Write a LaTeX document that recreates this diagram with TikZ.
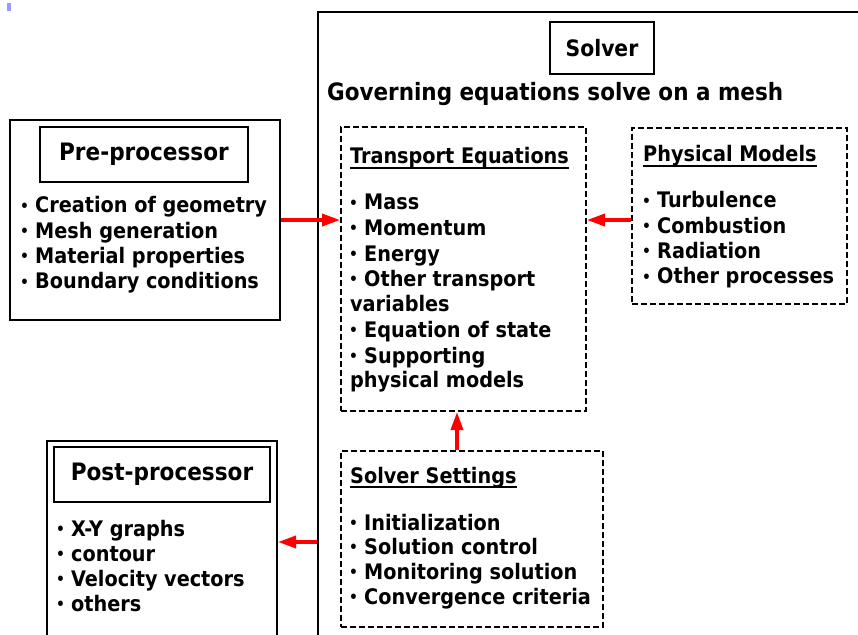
\documentclass[tikz,border=0pt]{standalone}
\usepackage{fontspec}
\setmainfont{DejaVu Sans Condensed}
\usetikzlibrary{arrows.meta,calc}
\newcommand\bul{\makebox[15bp][l]{\raisebox{1.8bp}{\scalebox{0.72}{•}}}}
\begin{document}
\begin{tikzpicture}[x=1bp,y=-1bp,
  every node/.style={font=\bfseries\fontsize{21.4bp}{25bp}\selectfont, inner sep=0pt},
  frame/.style={draw, line width=2bp, anchor=north west},
  dashframe/.style={draw, line width=2bp, dash pattern=on 6bp off 3bp, anchor=north west},
  titlebox/.style={draw, line width=2bp, font=\bfseries\fontsize{24bp}{28bp}\selectfont},
  item/.style={anchor=base west},
  heading/.style={anchor=base west},
  uline/.style={line width=1.6bp},
  flow/.style={red, line width=3.5bp, -{Triangle[length=18bp,width=12bp]}}]
\path[clip] (0,0) rectangle (858,635);
\fill[white] (0,0) rectangle (858,635);
\fill[blue!40!white] (7,3) rectangle (11,11);

% Pre-processor
\node[frame, minimum width=270bp, minimum height=200bp] (pre) at (9,119) {};
\node[titlebox, minimum width=208bp, minimum height=55bp] (pretitle) at (144,154.5) {Pre-processor};
\foreach \t [count=\i] in {Creation of geometry, Mesh generation, Material properties, Boundary conditions}
  \node[item] (pre\i) at (20, 213+25.3*\i-25.3) {\bul\t};

% Post-processor
\node[frame, minimum width=230bp, minimum height=202bp] (post) at (46,440) {};
\node[titlebox, minimum width=216bp, minimum height=55bp] (posttitle) at (162,474.5) {Post-processor};
\foreach \t [count=\i] in {X-Y graphs, contour, Velocity vectors, others}
  \node[item] (post\i) at (56, 536+25*\i-25) {\bul\t};

% Solver
\node[frame, minimum width=560bp, minimum height=640bp] (solver) at (317,11) {};
\node[titlebox, minimum width=104bp, minimum height=52bp, font=\bfseries\fontsize{22.6bp}{26bp}\selectfont] (solvertitle) at (602,48) {Solver};
\node[heading, font=\bfseries\fontsize{23.9bp}{28bp}\selectfont] (gov) at (327,101) {Governing equations solve on a mesh};

% Transport equations
\node[dashframe, minimum width=245bp, minimum height=284bp] (trans) at (340,126) {};
\node[heading] (transtitle) at (350,164) {Transport Equations};
\draw[uline] ([yshift=-4bp]transtitle.base west) -- ([yshift=-4bp]transtitle.base east);
\node[item] (tr1) at (349,210) {\bul Mass};
\node[item] (tr2) at (349,235.5) {\bul Momentum};
\node[item] (tr3) at (349,261) {\bul Energy};
\node[item] (tr4) at (349,286.5) {\bul Other transport};
\node[item] (tr5) at (350,311.5) {variables};
\node[item] (tr6) at (349,337.5) {\bul Equation of state};
\node[item] (tr7) at (349,363) {\bul Supporting};
\node[item] (tr8) at (350,387) {physical models};

% Physical models
\node[dashframe, minimum width=215bp, minimum height=176bp] (phys) at (631,127) {};
\node[heading] (phystitle) at (643,162) {Physical Models};
\draw[uline] ([yshift=-4bp]phystitle.base west) -- ([yshift=-4bp]phystitle.base east);
\foreach \t [count=\i] in {Turbulence, Combustion, Radiation, Other processes}
  \node[item] (phys\i) at (642, 208+25.3*\i-25.3) {\bul\t};

% Solver settings
\node[dashframe, minimum width=262bp, minimum height=176bp] (set) at (340,450) {};
\node[heading] (settitle) at (350,483) {Solver Settings};
\draw[uline] ([yshift=-4bp]settitle.base west) -- ([yshift=-4bp]settitle.base east);
\foreach \t [count=\i] in {Initialization, Solution control, Monitoring solution, Convergence criteria}
  \node[item] (set\i) at (349, 530+24.7*\i-24.7) {\bul\t};

% Connectors
\draw[flow] (pre.east) -- (pre.east -| trans.west);
\draw[flow] (phys.west |- pre.east) -- (trans.east |- pre.east);
\draw[flow] ([xshift=-15bp]set.north) -- ([xshift=-15bp]set.north |- trans.south);
\draw[flow] (post.east -| solver.west) -- (post.east);
\end{tikzpicture}
\end{document}
